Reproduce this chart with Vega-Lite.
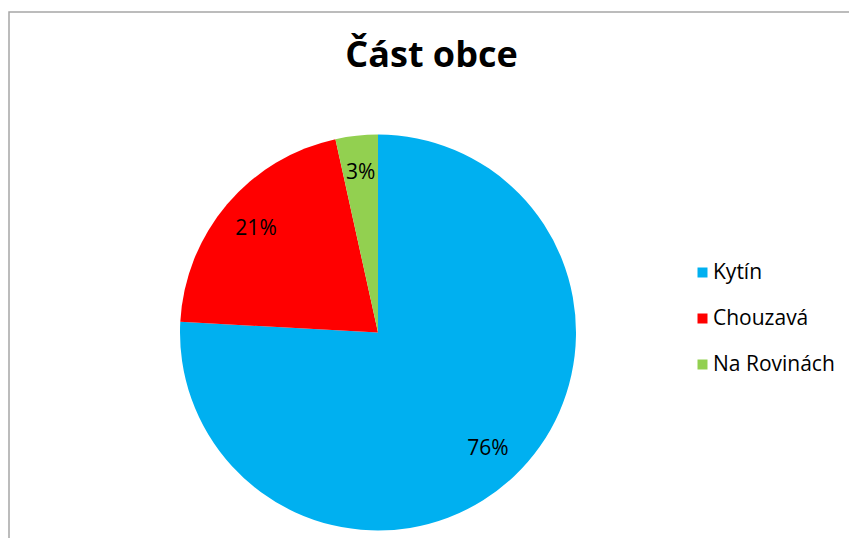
{
  "$schema": "https://vega.github.io/schema/vega-lite/v6.json",
  "width": 845,
  "height": 530,
  "autosize": "none",
  "padding": {"left": 9, "top": 12, "right": 0, "bottom": 0},
  "background": "white",
  "view": {"stroke": "#a6a6a6", "strokeWidth": 1.5, "fill": "white"},
  "config": {"view": {"stroke": "#a6a6a6", "strokeWidth": 1.5}},
  "title": {
    "text": "Část obce",
    "font": "Open Sans",
    "fontSize": 36,
    "fontWeight": "bold",
    "color": "black",
    "anchor": "middle",
    "offset": -63
  },
  "data": {
    "values": [
      {"part": "Kytín", "count": 22, "order": 1, "pct": "76%"},
      {"part": "Chouzavá", "count": 6, "order": 2, "pct": "21%"},
      {"part": "Na Rovinách", "count": 1, "order": 3, "pct": "3%"}
    ]
  },
  "encoding": {
    "theta": {"field": "count", "type": "quantitative", "stack": true},
    "order": {"field": "order", "type": "quantitative"}
  },
  "layer": [
    {
      "mark": {"type": "arc", "outerRadius": 198, "x": 369, "y": 320.5},
      "encoding": {
        "color": {
          "field": "part",
          "type": "nominal",
          "sort": ["Kytín", "Chouzavá", "Na Rovinách"],
          "scale": {"domain": ["Kytín", "Chouzavá", "Na Rovinách"], "range": ["#00B0F0", "#FF0000", "#92D050"]},
          "legend": {
            "title": null,
            "orient": "none",
            "legendX": 683,
            "legendY": 250,
            "symbolType": "square",
            "symbolSize": 100,
            "symbolStrokeWidth": 0,
            "labelFont": "Open Sans",
            "labelFontSize": 21,
            "labelColor": "black",
            "rowPadding": 24,
            "labelOffset": 0
          }
        }
      }
    },
    {
      "mark": {"type": "text", "radius": 160, "x": 369, "y": 320.5, "font": "Open Sans", "fontSize": 21, "color": "black"},
      "encoding": {"text": {"field": "pct", "type": "nominal"}}
    }
  ]
}
